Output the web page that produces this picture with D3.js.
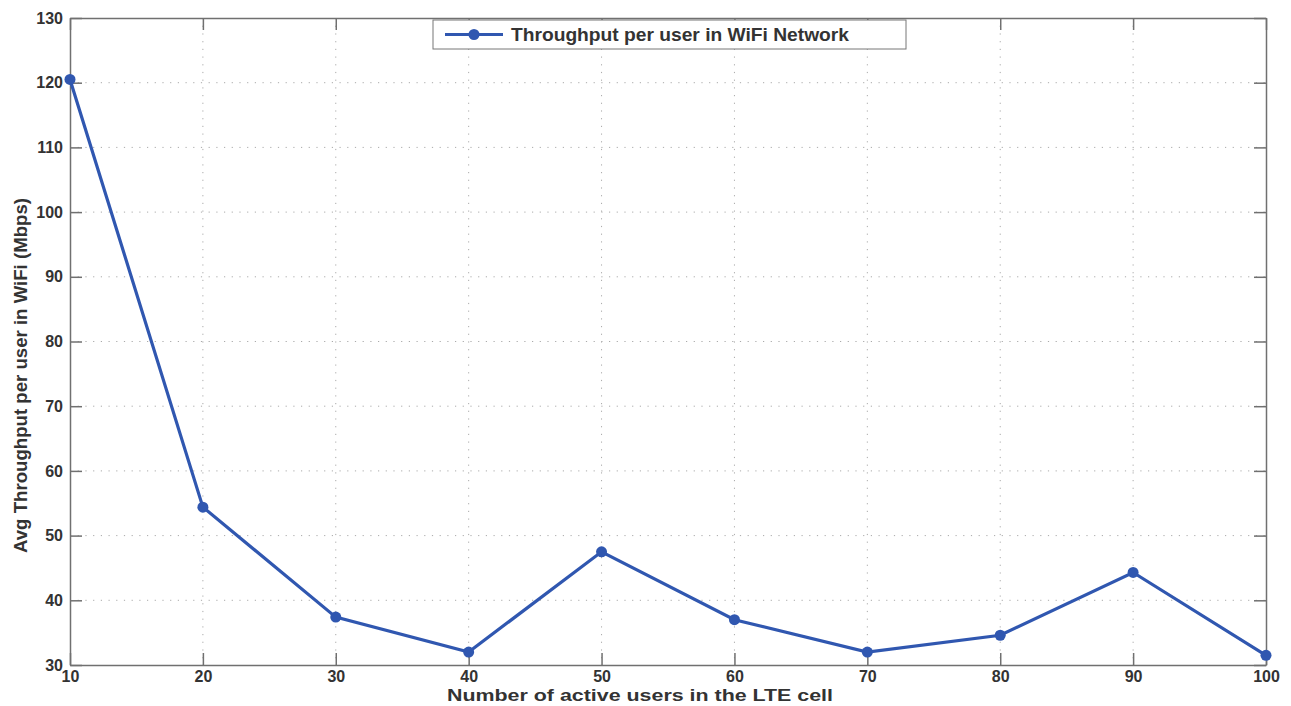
<!DOCTYPE html>
<html><head><meta charset="utf-8">
<script src="https://cdn.jsdelivr.net/npm/d3@7"></script>
<style>body{margin:0;background:#fff}svg{display:block}text{font-family:"Liberation Sans",Arial,sans-serif;font-weight:bold;fill:#333}</style>
</head><body><svg id="c" width="1291" height="706"></svg>
<script>
const users = [10,20,30,40,50,60,70,80,90,100];
const throughput = [120.5,54.4,37.4,32.0,47.5,37.0,32.0,34.6,44.3,31.5];
const xTicks = [10,20,30,40,50,60,70,80,90,100];
const yTicks = [30,40,50,60,70,80,90,100,110,120,130];
const seriesName = "Throughput per user in WiFi Network";
const xLabel = "Number of active users in the LTE cell";
const yLabel = "Avg Throughput per user in WiFi (Mbps)";

const svg = d3.select("#c");
const L=70,R=1266,T=18,B=665;
const x = d3.scaleLinear().domain([10,100]).range([L,R]);
const y = d3.scaleLinear().domain([30,130]).range([B,T]);
const axisCol="#707070", col="#3057b0";

// grid
const g = svg.append("g");
g.selectAll(".gx").data(xTicks.slice(1,-1)).enter().append("line")
 .attr("x1",d=>x(d)).attr("x2",d=>x(d)).attr("y1",T).attr("y2",B)
 .attr("stroke","#aaa").attr("stroke-width",1).attr("stroke-dasharray","1.2,6.5");
g.selectAll(".gy").data(yTicks.slice(1,-1)).enter().append("line")
 .attr("x1",L).attr("x2",R).attr("y1",d=>y(d)).attr("y2",d=>y(d))
 .attr("stroke","#aaa").attr("stroke-width",1).attr("stroke-dasharray","1.2,6.5");

// axes
const tl=12;
const xb = svg.append("g").attr("transform",`translate(0,${B})`).call(d3.axisBottom(x).tickValues(xTicks).tickSizeInner(-tl).tickSizeOuter(0).tickPadding(8));
const xt = svg.append("g").attr("transform",`translate(0,${T})`).call(d3.axisTop(x).tickValues(xTicks).tickSizeInner(-tl).tickSizeOuter(0).tickFormat(""));
const yl = svg.append("g").attr("transform",`translate(${L},0)`).call(d3.axisLeft(y).tickValues(yTicks).tickSizeInner(-tl).tickSizeOuter(0).tickPadding(7));
const yr = svg.append("g").attr("transform",`translate(${R},0)`).call(d3.axisRight(y).tickValues(yTicks).tickSizeInner(-tl).tickSizeOuter(0).tickFormat(""));
[xb,xt,yl,yr].forEach(a=>{a.selectAll("path,line").attr("stroke",axisCol).attr("stroke-width",1.5);
 a.selectAll("text").style("font-size","16px").style("font-family","Liberation Sans, Arial, sans-serif").style("font-weight","bold").attr("fill","#333");});
xb.selectAll("text").attr("y",17).attr("dy",0);

// line
svg.append("path").datum(users.map((u,i)=>[u,throughput[i]]))
 .attr("d",d3.line().x(d=>x(d[0])).y(d=>y(d[1])))
 .attr("fill","none").attr("stroke",col).attr("stroke-width",3.2);
svg.selectAll(".pt").data(users).enter().append("circle")
 .attr("cx",d=>x(d)).attr("cy",(d,i)=>y(throughput[i])).attr("r",5.5).attr("fill",col);

// legend
const lg = svg.append("g");
lg.append("rect").attr("x",433).attr("y",20).attr("width",473).attr("height",29).attr("fill","#fff").attr("stroke","#777").attr("stroke-width",1);
lg.append("line").attr("x1",445).attr("x2",503).attr("y1",34.5).attr("y2",34.5).attr("stroke",col).attr("stroke-width",3.2);
lg.append("circle").attr("cx",474).attr("cy",34.5).attr("r",5.5).attr("fill",col);
lg.append("text").attr("x",511).attr("y",41).style("font-size","19px").attr("textLength",338).attr("lengthAdjust","spacingAndGlyphs").text(seriesName);

// labels
svg.append("text").attr("x",447).attr("y",701).style("font-size","17px").attr("textLength",386).attr("lengthAdjust","spacingAndGlyphs").text(xLabel);
svg.append("text").attr("transform",`translate(27,553) rotate(-90)`).style("font-size","17.5px").attr("textLength",355).attr("lengthAdjust","spacingAndGlyphs").text(yLabel);
</script></body></html>
